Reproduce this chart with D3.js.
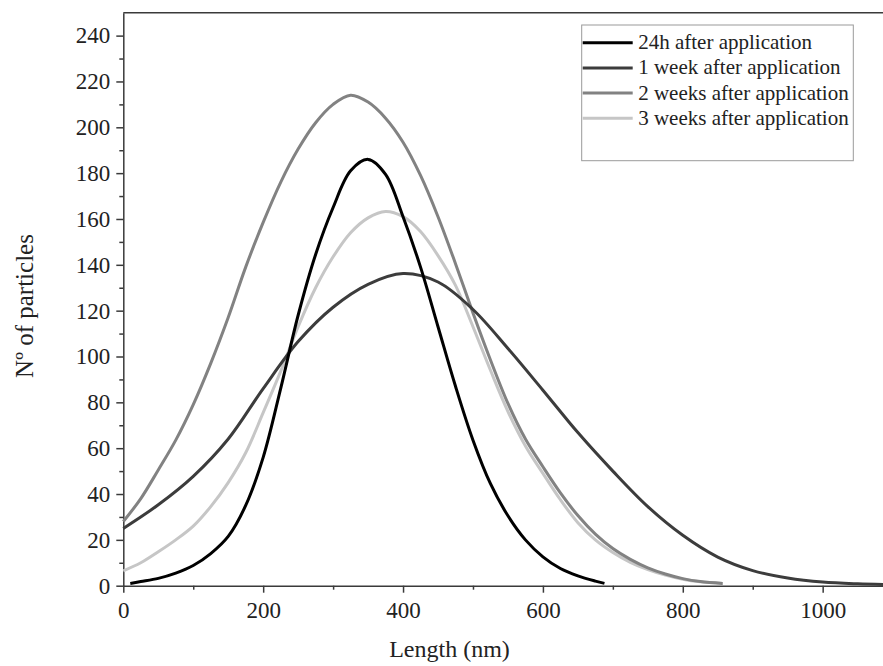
<!DOCTYPE html>
<html>
<head>
<meta charset="utf-8">
<script src="https://cdn.jsdelivr.net/npm/d3@7"></script>
<style>
	body { margin: 0; background: #fff; }
	svg { display: block; }
	text { font-family: 'Liberation Serif', 'Times New Roman', serif; fill: #222; }
</style>
</head>
<body>
<svg id="chart" width="883" height="666"></svg>
<script>
// values: length (nm) and particle count
const length24h = [10, 25, 50, 75, 100, 125, 150, 175, 200, 225, 250, 275, 300, 325, 350, 375, 400, 425, 450, 475, 500, 525, 550, 575, 600, 625, 650, 675, 688]
const count24h = [1, 1.8, 3.2, 5.5, 8.8, 14, 21.5, 35, 56, 86, 118, 144.5, 165, 181, 186, 179.5, 161, 139, 113, 87, 63.5, 44.5, 30.5, 20, 12.6, 7.5, 4.3, 2, 1]

const length1w = [0, 50, 100, 150, 200, 250, 300, 350, 400, 450, 500, 550, 600, 650, 700, 750, 800, 850, 900, 950, 1000, 1050, 1100]
const count1w = [25, 35.3, 47.7, 64, 86, 106.5, 121.5, 131.5, 136.2, 132.5, 120.5, 103.5, 85.3, 66.8, 50, 34.5, 22, 12.5, 6.6, 3.4, 1.6, 0.8, 0.4]

const length2w = [0, 25, 50, 75, 100, 125, 150, 175, 200, 225, 250, 275, 300, 325, 350, 375, 400, 425, 450, 475, 500, 525, 550, 575, 600, 625, 650, 675, 700, 725, 750, 775, 800, 825, 857]
const count2w = [28, 38, 50.5, 63.5, 79, 97, 117, 139, 158.5, 176, 190.5, 202, 210, 214, 211, 204, 193.5, 179, 161, 140.5, 119, 98.5, 79.5, 64, 51.9, 40.5, 30.6, 22.5, 16.2, 11.5, 7.8, 5.1, 3.1, 1.8, 1]

const length3w = [0, 25, 50, 75, 100, 125, 150, 175, 200, 225, 250, 275, 300, 325, 350, 375, 400, 425, 450, 475, 500, 525, 550, 575, 600, 625, 650, 675, 700, 725, 750, 775, 800, 825, 857]
const count3w = [6.5, 10, 14.8, 20, 26, 34.5, 45, 58, 75.5, 93.5, 113, 130, 143.5, 154, 160.5, 163.3, 161, 154.5, 144, 131, 113, 94, 76, 61, 49, 37.5, 27.5, 20, 14.5, 10.2, 7, 4.6, 2.8, 1.7, 1]

const seriesNames = ['24h after application', '1 week after application', '2 weeks after application', '3 weeks after application']
const xTicks = [0, 200, 400, 600, 800, 1000]
const yTicks = [0, 20, 40, 60, 80, 100, 120, 140, 160, 180, 200, 220, 240]

const colors = ['#000000', '#3c3c3c', '#828282', '#c6c6c6']

const series = [
	{ name: seriesNames[0], color: colors[0], xs: length24h, ys: count24h },
	{ name: seriesNames[1], color: colors[1], xs: length1w, ys: count1w },
	{ name: seriesNames[2], color: colors[2], xs: length2w, ys: count2w },
	{ name: seriesNames[3], color: colors[3], xs: length3w, ys: count3w }
]

const svg = d3.select('#chart')
const axisColor = '#3a3a3a'

const x = d3.scaleLinear().domain([0, 1100]).range([123.3, 892.6])
const y = d3.scaleLinear().domain([0, 250]).range([585.7, 12.7])

const styleAxis = g => {
	g.attr('font-family', null).attr('font-size', null)
	g.select('.domain').attr('stroke', axisColor).attr('stroke-width', 1.5)
	g.selectAll('line').attr('stroke', axisColor).attr('stroke-width', 1.5)
	g.selectAll('text').attr('font-size', 23).attr('fill', '#222')
}

// minor ticks first, majors on top
svg.append('g')
	.attr('transform', `translate(0,${y(0)})`)
	.call(d3.axisBottom(x).tickValues(d3.range(100, 1100, 200)).tickSize(4).tickFormat(''))
	.call(g => g.select('.domain').remove())
	.call(g => g.selectAll('line').attr('stroke', axisColor).attr('stroke-width', 1.5))

svg.append('g')
	.attr('transform', `translate(${x(0)},0)`)
	.call(d3.axisLeft(y).tickValues(d3.range(10, 250, 20)).tickSize(4).tickFormat(''))
	.call(g => g.select('.domain').remove())
	.call(g => g.selectAll('line').attr('stroke', axisColor).attr('stroke-width', 1.5))

svg.append('g')
	.attr('transform', `translate(0,${y(0)})`)
	.call(d3.axisBottom(x).tickValues(xTicks).tickFormat(d3.format('d')).tickSize(7).tickSizeOuter(0).tickPadding(9))
	.call(styleAxis)

svg.append('g')
	.attr('transform', `translate(${x(0)},0)`)
	.call(d3.axisLeft(y).tickValues(yTicks).tickFormat(d3.format('d')).tickSize(7).tickSizeOuter(0).tickPadding(6))
	.call(styleAxis)

// top frame line
svg.append('line')
	.attr('x1', x(0)).attr('x2', 883)
	.attr('y1', y(250)).attr('y2', y(250))
	.attr('stroke', axisColor).attr('stroke-width', 1.5)

const line = d3.line()
	.x(d => x(d[0]))
	.y(d => y(d[1]))
	.curve(d3.curveCatmullRom.alpha(0.5))

// light curves underneath, black on top
svg.append('g')
	.selectAll('path')
	.data(series.slice().reverse())
	.join('path')
	.attr('d', d => line(d.xs.map((v, i) => [v, d.ys[i]])))
	.attr('fill', 'none')
	.attr('stroke', d => d.color)
	.attr('stroke-width', 3)

// axis titles
svg.append('text')
	.attr('x', 449.5)
	.attr('y', 657)
	.attr('text-anchor', 'middle')
	.attr('font-size', 24)
	.text('Length (nm)')

svg.append('text')
	.attr('transform', 'translate(33,306) rotate(-90)')
	.attr('text-anchor', 'middle')
	.attr('font-size', 25)
	.text('Nº of particles')

// legend
const legend = svg.append('g')

legend.append('rect')
	.attr('x', 581.7).attr('y', 25)
	.attr('width', 271.6).attr('height', 135.7)
	.attr('fill', '#fff')
	.attr('stroke', '#9a9a9a')
	.attr('stroke-width', 1)

const rows = legend.selectAll('g.row')
	.data(series)
	.join('g')
	.attr('class', 'row')
	.attr('transform', (d, i) => `translate(582.7,${42.7 + i * 25.2})`)

rows.append('line')
	.attr('x1', 0).attr('x2', 50)
	.attr('stroke', d => d.color)
	.attr('stroke-width', 3)

rows.append('text')
	.attr('x', 55.5)
	.attr('y', 6.5)
	.attr('font-size', 21)
	.text(d => d.name)
</script>
</body>
</html>
